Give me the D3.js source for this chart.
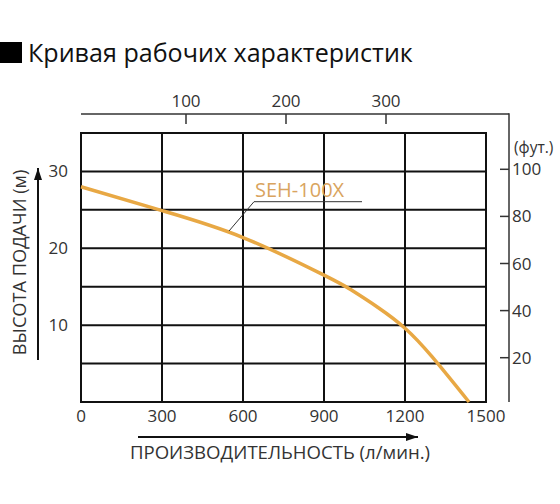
<!DOCTYPE html>
<html><head><meta charset="utf-8">
<script src="https://cdn.jsdelivr.net/npm/d3@7"></script>
<style>body{margin:0;background:#fff}svg{display:block}text{font-family:"Open Sans",sans-serif}</style>
</head><body>
<svg id="c" width="560" height="504"></svg>
<script>
const title = "Кривая рабочих характеристик";
const flowTicks = [0, 300, 600, 900, 1200, 1500];
const headTicks = [10, 20, 30];
const topTicks = [100, 200, 300];
const ftTicks = [20, 40, 60, 80, 100];
const curveFlow = [0, 300, 600, 900, 1000, 1100, 1200, 1300, 1437];
const curveHead = [28, 24.9, 21.4, 16.5, 14.6, 12.3, 9.6, 5.9, 0];
const seriesName = "SEH-100X";
const yLabel = "ВЫСОТА ПОДАЧИ (м)";
const xLabel = "ПРОИЗВОДИТЕЛЬНОСТЬ (л/мин.)";
const ftUnit = "(фут.)";

const svg = d3.select("#c");
const x = d3.scaleLinear().domain([0, 1500]).range([81, 486]);
const y = d3.scaleLinear().domain([0, 35]).range([402, 133]);
const xTop = d3.scaleLinear().domain([0, 300]).range([86, 386]);
const yFt = d3.scaleLinear().domain([0, 100]).range([404.8, 169.3]);

// title
svg.append("rect").attr("x", 0).attr("y", 42).attr("width", 22).attr("height", 21).attr("fill", "#000");
svg.append("text").attr("x", 28).attr("y", 62).attr("font-size", 25.1).attr("fill", "#111").text(title);

// grid
const g = svg.append("g");
g.selectAll("line.v").data(d3.range(0, 1501, 300)).join("line")
  .attr("x1", d => x(d)).attr("x2", d => x(d)).attr("y1", y(35)).attr("y2", y(0))
  .attr("stroke", "#111").attr("stroke-width", 2);
g.selectAll("line.h").data(d3.range(0, 36, 5)).join("line")
  .attr("x1", x(0)-1).attr("x2", x(1500)+1).attr("y1", d => y(d)).attr("y2", d => y(d))
  .attr("stroke", "#111").attr("stroke-width", 2);

// bottom labels
svg.selectAll("text.xl").data(flowTicks).join("text")
  .attr("x", d => x(d)).attr("y", 422).attr("text-anchor", "middle")
  .attr("font-size", 17).attr("fill", "#333").text(d => d);
// left labels
svg.selectAll("text.yl").data(headTicks).join("text")
  .attr("x", 68).attr("y", d => y(d) + 6).attr("text-anchor", "end")
  .attr("font-size", 17).attr("fill", "#333").text(d => d);

// top axis
const topG = svg.append("g");
topG.append("line").attr("x1", x(0)).attr("x2", 509).attr("y1", 114).attr("y2", 114).attr("stroke", "#333").attr("stroke-width", 1.5);
topG.selectAll("line.t").data(topTicks).join("line")
  .attr("x1", d => xTop(d)).attr("x2", d => xTop(d)).attr("y1", 114).attr("y2", 124)
  .attr("stroke", "#333").attr("stroke-width", 1.5);
topG.selectAll("text").data(topTicks).join("text")
  .attr("x", d => xTop(d)).attr("y", 107).attr("text-anchor", "middle")
  .attr("font-size", 17).attr("fill", "#333").text(d => d);

// right axis
const rG = svg.append("g");
rG.append("line").attr("x1", 509).attr("x2", 509).attr("y1", 113.25).attr("y2", 402).attr("stroke", "#333").attr("stroke-width", 1.5);
rG.selectAll("line.t").data(ftTicks).join("line")
  .attr("x1", 500).attr("x2", 509).attr("y1", d => yFt(d)).attr("y2", d => yFt(d))
  .attr("stroke", "#333").attr("stroke-width", 1.5);
rG.selectAll("text").data(ftTicks).join("text")
  .attr("x", 512).attr("y", d => yFt(d) + 6)
  .attr("font-size", 17).attr("fill", "#333").text(d => d);
rG.append("text").attr("x", 514).attr("y", 153).attr("font-size", 15.5).attr("fill", "#333").text(ftUnit);

// curve
const pts = curveFlow.map((f, i) => [f, curveHead[i]]);
svg.append("path").datum(pts)
  .attr("d", d3.line().x(d => x(d[0])).y(d => y(d[1])).curve(d3.curveNatural))
  .attr("fill", "none").attr("stroke", "#e8a844").attr("stroke-width", 3.5);

// label + leader
svg.append("path").attr("d", d3.line()([[229, 231], [254, 201.7], [362, 201.7]]))
  .attr("fill", "none").attr("stroke", "#333").attr("stroke-width", 1);
svg.append("text").attr("x", 255).attr("y", 197).attr("font-size", 20).attr("fill", "#d9a45e").text(seriesName);

// arrows
const defs = svg.append("defs");
defs.append("marker").attr("id", "ah").attr("viewBox", "0 0 12 8").attr("refX", 12).attr("refY", 4)
  .attr("markerWidth", 12).attr("markerHeight", 8).attr("markerUnits", "userSpaceOnUse").attr("orient", "auto")
  .append("path").attr("d", "M0,0L12,4L0,8Z").attr("fill", "#111");
svg.append("line").attr("x1", 38).attr("x2", 38).attr("y1", 360).attr("y2", 168)
  .attr("stroke", "#111").attr("stroke-width", 2).attr("marker-end", "url(#ah)");
svg.append("line").attr("x1", 138).attr("x2", 418).attr("y1", 437).attr("y2", 437)
  .attr("stroke", "#111").attr("stroke-width", 2).attr("marker-end", "url(#ah)");

svg.append("text").attr("transform", "translate(26,262.5) rotate(-90)").attr("text-anchor", "middle")
  .attr("font-size", 18.2).attr("fill", "#333").text(yLabel);
svg.append("text").attr("x", 280).attr("y", 459).attr("text-anchor", "middle")
  .attr("font-size", 18.6).attr("fill", "#333").text(xLabel);
</script>
</body></html>
